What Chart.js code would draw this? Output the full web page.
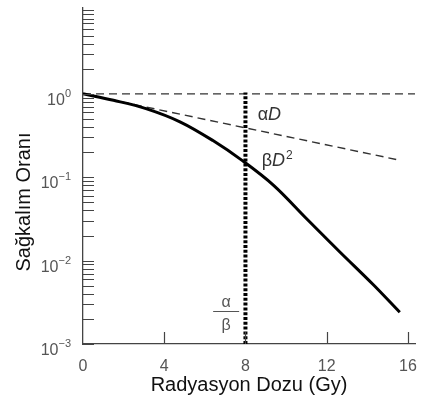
<!DOCTYPE html>
<html>
<head>
<meta charset="utf-8">
<script src="https://cdn.jsdelivr.net/npm/chart.js@4.4.0/dist/chart.umd.min.js"></script>
<style>
  html, body { margin: 0; padding: 0; background: #fff; }
</style>
</head>
<body>
<canvas id="survivalChart" width="422" height="405"></canvas>
<script>
// Survival curve (dose in Gy, surviving fraction)
const doseValues = [0, 1.5, 3.1, 4.8, 6.4, 7.85, 9.4, 11.0, 12.65, 14.3, 15.6];
const survivalValues = [1.0, 0.836, 0.665, 0.459, 0.275, 0.158, 0.0794, 0.032, 0.0127, 0.00513, 0.0024];

// alpha*D component (straight on the log axis)
const alphaDose = [0, 15.6];
const alphaSurvival = [1.0, 0.16];

// reference line at S = 1
const unityDose = [0, 16.35];
const unitySurvival = [1.0, 1.0];

// alpha/beta marker at 8 Gy
const ratioDose = [8, 8];
const ratioSurvival = [0.001, 1.04];

const xTickValues = [0, 4, 8, 12, 16];
const yLabelExponents = [0, -1, -2, -3];

const FONT = '"Liberation Sans", Arial, Helvetica, sans-serif';

function toPoints(xs, ys) {
  return xs.map((x, i) => ({ x: x, y: ys[i] }));
}

// minor ticks 1..9 in each decade, plus 10
function logTickValues() {
  const vals = [];
  for (let e = -3; e <= 0; e++) {
    for (let m = 1; m <= 9; m++) vals.push(m * Math.pow(10, e));
  }
  vals.push(10);
  return vals;
}

// --- ticks inside the axes, superscript labels, annotations ---
const decorPlugin = {
  id: "decor",
  afterDraw(chart) {
    const ctx = chart.ctx;
    const xs = chart.scales.x;
    const ys = chart.scales.y;
    const area = chart.chartArea;
    ctx.save();

    // tick marks
    ctx.strokeStyle = "#444";
    ctx.lineWidth = 1.2;
    ctx.beginPath();
    ys.ticks.forEach(t => {
      const y = Math.round(ys.getPixelForValue(t.value)) + 0.5;
      ctx.moveTo(area.left, y);
      ctx.lineTo(area.left + 11, y);
    });
    xTickValues.slice(1).forEach(v => {
      const x = Math.round(xs.getPixelForValue(v)) + 0.5;
      ctx.moveTo(x, area.bottom);
      ctx.lineTo(x, area.bottom - 12);
    });
    ctx.stroke();

    // y labels 10^n
    ctx.fillStyle = "#555";
    ctx.textBaseline = "alphabetic";
    ctx.textAlign = "right";
    yLabelExponents.forEach(e => {
      const y = ys.getPixelForValue(Math.pow(10, e));
      const exp = e === 0 ? "0" : "\u2212" + Math.abs(e);
      ctx.font = "11px " + FONT;
      const w = ctx.measureText(exp).width;
      ctx.fillText(exp, 71, y + 3);
      ctx.font = "16px " + FONT;
      ctx.fillText("10", 71 - w, y + 11);
    });

    // y title
    ctx.save();
    ctx.translate(24, 202);
    ctx.rotate(-Math.PI / 2);
    ctx.textAlign = "center";
    ctx.textBaseline = "middle";
    ctx.fillStyle = "#111";
    ctx.font = "20px " + FONT;
    ctx.fillText("Sağkalım Oranı", 0, 0);
    ctx.restore();

    // alpha D
    ctx.fillStyle = "#333";
    ctx.textAlign = "left";
    let x = xs.getPixelForValue(8.6);
    let y = ys.getPixelForValue(0.48);
    ctx.font = "18px " + FONT;
    ctx.fillText("α", x, y);
    x += ctx.measureText("α").width;
    ctx.font = "italic 18px " + FONT;
    ctx.fillText("D", x, y);

    // beta D^2
    x = xs.getPixelForValue(8.8);
    y = ys.getPixelForValue(0.135);
    ctx.font = "18px " + FONT;
    ctx.fillText("β", x, y);
    x += ctx.measureText("β").width;
    ctx.font = "italic 18px " + FONT;
    ctx.fillText("D", x, y);
    x += ctx.measureText("D").width + 1;
    ctx.font = "12px " + FONT;
    ctx.fillText("2", x, y - 7);

    // alpha / beta fraction
    const cx = xs.getPixelForValue(7.05);
    const ly = ys.getPixelForValue(0.00248);
    ctx.fillStyle = "#555";
    ctx.textAlign = "center";
    ctx.font = "16px " + FONT;
    ctx.fillText("α", cx, ly - 4);
    ctx.fillText("β", cx, ly + 19);
    ctx.strokeStyle = "#555";
    ctx.lineWidth = 1;
    ctx.beginPath();
    ctx.moveTo(cx - 13, Math.round(ly) + 0.5);
    ctx.lineTo(cx + 13, Math.round(ly) + 0.5);
    ctx.stroke();

    ctx.restore();
  }
};

const ctx = document.getElementById("survivalChart").getContext("2d");

new Chart(ctx, {
  type: "line",
  data: {
    datasets: [
      {
        label: "Sağkalım",
        data: toPoints(doseValues, survivalValues),
        borderColor: "#000",
        borderWidth: 3,
        pointRadius: 0,
        tension: 0.35,
        fill: false
      },
      {
        label: "α/β",
        data: toPoints(ratioDose, ratioSurvival),
        borderColor: "#000",
        borderWidth: 4,
        borderDash: [3, 1.8],
        borderCapStyle: "butt",
        pointRadius: 0,
        fill: false
      },
      {
        label: "αD",
        data: toPoints(alphaDose, alphaSurvival),
        borderColor: "#333",
        borderWidth: 1.4,
        borderDash: [8, 5],
        pointRadius: 0,
        fill: false
      },
      {
        label: "1",
        data: toPoints(unityDose, unitySurvival),
        borderColor: "#333",
        borderWidth: 1.4,
        borderDash: [8, 5],
        pointRadius: 0,
        fill: false
      }
    ]
  },
  options: {
    responsive: false,
    animation: false,
    layout: { padding: { top: 8, right: 7, left: 0, bottom: 0 } },
    plugins: {
      legend: { display: false },
      tooltip: { enabled: false }
    },
    scales: {
      x: {
        type: "linear",
        min: 0,
        max: 16.35,
        afterBuildTicks: scale => {
          scale.ticks = xTickValues.map(v => ({ value: v }));
        },
        afterFit: scale => { scale.height = 61; },
        grid: { display: false },
        border: { display: true, color: "#444", width: 1.3 },
        ticks: {
          color: "#555",
          padding: 5,
          font: { family: FONT, size: 16 }
        },
        title: {
          display: true,
          text: "Radyasyon Dozu (Gy)",
          color: "#111",
          font: { family: FONT, size: 20 },
          padding: { top: 0, bottom: 8 }
        }
      },
      y: {
        type: "logarithmic",
        min: 0.001,
        max: 10.7,
        afterBuildTicks: scale => {
          scale.ticks = logTickValues().map(v => ({ value: v }));
        },
        afterFit: scale => { scale.width = 83; },
        grid: { display: false },
        border: { display: true, color: "#444", width: 1.3 },
        ticks: { display: false }
      }
    }
  },
  plugins: [decorPlugin]
});
</script>
</body>
</html>
